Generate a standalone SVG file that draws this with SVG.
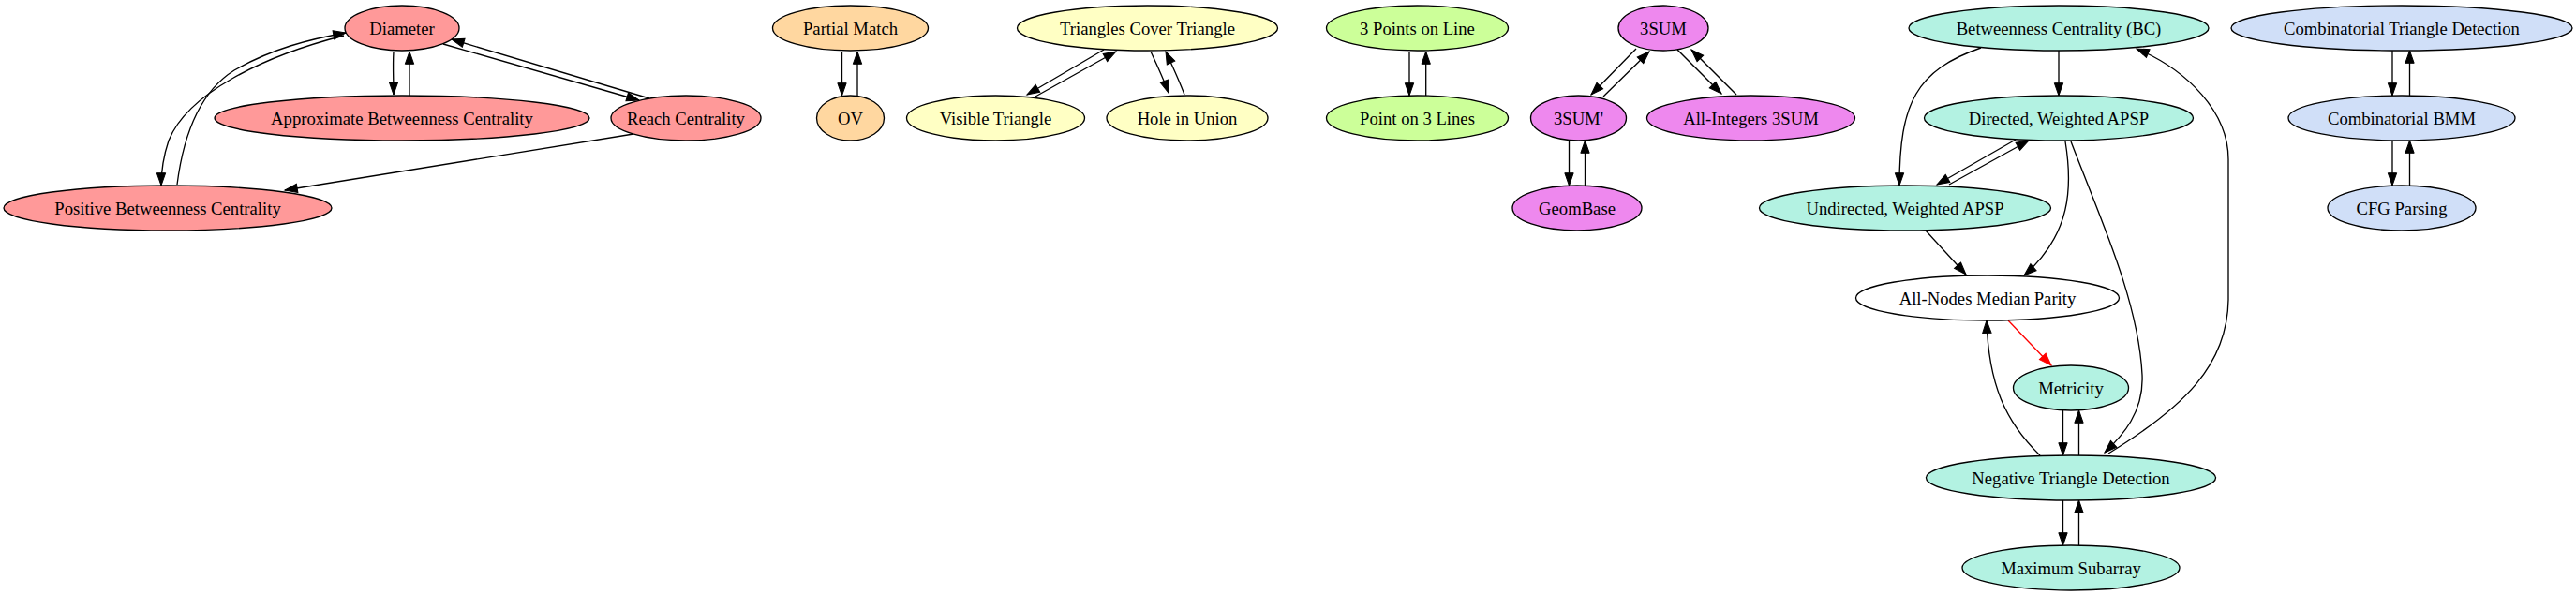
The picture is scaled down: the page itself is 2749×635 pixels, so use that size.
<svg xmlns="http://www.w3.org/2000/svg" width="2749" height="635" viewBox="0 0 2749 635">
<style>
.n ellipse{stroke:#000;stroke-width:1.33}
.n text{font-family:"Liberation Serif","Times New Roman",serif;font-size:18.67px;text-anchor:middle;fill:#000}
.e path{fill:none;stroke:#000;stroke-width:1.33}
.e path.red{stroke:#ff0000}
.g1{fill:#ff9999}.g2{fill:#ffd7a0}.g3{fill:#ffffc4}.g4{fill:#ccff99}.g5{fill:#ee88ee}.g6{fill:#b3f2e2}.g7{fill:#d0dff8}.g0{fill:#ffffff}
</style>
<defs>
<marker id="a" markerUnits="userSpaceOnUse" markerWidth="16" markerHeight="12" refX="13.3" refY="4.67" orient="auto" overflow="visible">
<path d="M0,0 L13.3,4.67 L0,9.33 z" fill="#000" stroke="#000" stroke-width="1"/>
</marker>
<marker id="ar" markerUnits="userSpaceOnUse" markerWidth="16" markerHeight="12" refX="13.3" refY="4.67" orient="auto" overflow="visible">
<path d="M0,0 L13.3,4.67 L0,9.33 z" fill="#ff0000" stroke="#ff0000" stroke-width="1"/>
</marker>
</defs>
<rect width="2749" height="635" fill="#fff"/>
<g id="edges" class="e" marker-end="url(#a)">
<path d="M420,55 C419,70 420,85 420,101" marker-end="url(#a)"/>
<path d="M437,102 C437,87 437,72 437,55" marker-end="url(#a)"/>
<path d="M473,47 L682,107" marker-end="url(#a)"/>
<path d="M693,105 L482,42" marker-end="url(#a)"/>
<path d="M367,38 C280,60 200,100 180,150 C174,168 172,183 172,198" marker-end="url(#a)"/>
<path d="M189,197 C195,150 210,100 250,75 C290,52 330,42 369,35" marker-end="url(#a)"/>
<path d="M676,143 L304,203" marker-end="url(#a)"/>
<path d="M898.5,55 L898.5,102" marker-end="url(#a)"/>
<path d="M915,102 L915,55" marker-end="url(#a)"/>
<path d="M1178,53 L1096,101" marker-end="url(#a)"/>
<path d="M1105,103 L1191,55" marker-end="url(#a)"/>
<path d="M1228,55 C1235,70 1242,85 1247,99" marker-end="url(#a)"/>
<path d="M1264,101 C1258,85 1250,68 1244,55" marker-end="url(#a)"/>
<path d="M1504,55 L1504,102" marker-end="url(#a)"/>
<path d="M1521.7,102 L1521.7,55" marker-end="url(#a)"/>
<path d="M1746,52 L1698,101" marker-end="url(#a)"/>
<path d="M1711,103 L1760,55" marker-end="url(#a)"/>
<path d="M1790,53 L1837,100" marker-end="url(#a)"/>
<path d="M1853,101 L1805,53" marker-end="url(#a)"/>
<path d="M1674.5,150 L1674.5,198" marker-end="url(#a)"/>
<path d="M1691.5,198 L1691.5,150" marker-end="url(#a)"/>
<path d="M2197,54 L2197,102" marker-end="url(#a)"/>
<path d="M2114,51 C2045,75 2027,110 2027,198" marker-end="url(#a)"/>
<path d="M2151,149 L2067,197" marker-end="url(#a)"/>
<path d="M2080,197 L2165,150" marker-end="url(#a)"/>
<path d="M2055,246 L2098,293" marker-end="url(#a)"/>
<path d="M2204,151 C2212,200 2210,250 2160,294" marker-end="url(#a)"/>
<path d="M2210,151 C2240,230 2282,320 2286,400 C2288,440 2265,465 2246,483" marker-end="url(#a)"/>
<path d="M2250,484 C2330,435 2377,390 2378,320 L2378,170 C2378,120 2335,75 2280,52" marker-end="url(#a)"/>
<path class="red" d="M2143,342 L2189,390" marker-end="url(#ar)"/>
<path d="M2177,486 C2140,450 2122,410 2120,342" marker-end="url(#a)"/>
<path d="M2201.5,438 L2201.5,486" marker-end="url(#a)"/>
<path d="M2218.5,486 L2218.5,438" marker-end="url(#a)"/>
<path d="M2201.5,534 L2201.5,582" marker-end="url(#a)"/>
<path d="M2218.5,582 L2218.5,534" marker-end="url(#a)"/>
<path d="M2553,54 L2553,102" marker-end="url(#a)"/>
<path d="M2571.5,102 L2571.5,54" marker-end="url(#a)"/>
<path d="M2553,150 L2553,198" marker-end="url(#a)"/>
<path d="M2571.5,198 L2571.5,150" marker-end="url(#a)"/>
</g>
<g id="diameter" class="n"><ellipse class="g1" cx="429" cy="30" rx="61" ry="24"/><text x="429" y="36.5">Diameter</text></g>
<g id="approx_bc" class="n"><ellipse class="g1" cx="429" cy="126" rx="200" ry="24"/><text x="429" y="132.5">Approximate Betweenness Centrality</text></g>
<g id="reach" class="n"><ellipse class="g1" cx="732" cy="126" rx="80" ry="24"/><text x="732" y="132.5">Reach Centrality</text></g>
<g id="positive_bc" class="n"><ellipse class="g1" cx="179" cy="222" rx="175" ry="24"/><text x="179" y="228.5">Positive Betweenness Centrality</text></g>
<g id="partial_match" class="n"><ellipse class="g2" cx="907.5" cy="30" rx="83" ry="24"/><text x="907.5" y="36.5">Partial Match</text></g>
<g id="ov" class="n"><ellipse class="g2" cx="907.5" cy="126" rx="36" ry="24"/><text x="907.5" y="132.5">OV</text></g>
<g id="tct" class="n"><ellipse class="g3" cx="1224.5" cy="30" rx="139" ry="24"/><text x="1224.5" y="36.5">Triangles Cover Triangle</text></g>
<g id="visible" class="n"><ellipse class="g3" cx="1062.5" cy="126" rx="95" ry="24"/><text x="1062.5" y="132.5">Visible Triangle</text></g>
<g id="hole" class="n"><ellipse class="g3" cx="1267" cy="126" rx="86" ry="24"/><text x="1267" y="132.5">Hole in Union</text></g>
<g id="points_line" class="n"><ellipse class="g4" cx="1512.5" cy="30" rx="97" ry="24"/><text x="1512.5" y="36.5">3 Points on Line</text></g>
<g id="point_lines" class="n"><ellipse class="g4" cx="1512.5" cy="126" rx="97" ry="24"/><text x="1512.5" y="132.5">Point on 3 Lines</text></g>
<g id="threesum" class="n"><ellipse class="g5" cx="1775" cy="30" rx="48" ry="24"/><text x="1775" y="36.5">3SUM</text></g>
<g id="threesum_p" class="n"><ellipse class="g5" cx="1684.5" cy="126" rx="51" ry="24"/><text x="1684.5" y="132.5">3SUM'</text></g>
<g id="allint" class="n"><ellipse class="g5" cx="1868.5" cy="126" rx="111" ry="24"/><text x="1868.5" y="132.5">All-Integers 3SUM</text></g>
<g id="geombase" class="n"><ellipse class="g5" cx="1683" cy="222" rx="69" ry="24"/><text x="1683" y="228.5">GeomBase</text></g>
<g id="bc" class="n"><ellipse class="g6" cx="2197" cy="30" rx="160" ry="24"/><text x="2197" y="36.5">Betweenness Centrality (BC)</text></g>
<g id="dapsp" class="n"><ellipse class="g6" cx="2197" cy="126" rx="143.5" ry="24"/><text x="2197" y="132.5">Directed, Weighted APSP</text></g>
<g id="uapsp" class="n"><ellipse class="g6" cx="2033" cy="222" rx="155.5" ry="24"/><text x="2033" y="228.5">Undirected, Weighted APSP</text></g>
<g id="anmp" class="n"><ellipse class="g0" cx="2121" cy="318" rx="140.5" ry="24"/><text x="2121" y="324.5">All-Nodes Median Parity</text></g>
<g id="metricity" class="n"><ellipse class="g6" cx="2210" cy="414" rx="61.5" ry="24"/><text x="2210" y="420.5">Metricity</text></g>
<g id="ntd" class="n"><ellipse class="g6" cx="2210" cy="510" rx="154.5" ry="24"/><text x="2210" y="516.5">Negative Triangle Detection</text></g>
<g id="maxsub" class="n"><ellipse class="g6" cx="2210" cy="606" rx="116" ry="24"/><text x="2210" y="612.5">Maximum Subarray</text></g>
<g id="ctd" class="n"><ellipse class="g7" cx="2563" cy="30" rx="182" ry="24"/><text x="2563" y="36.5">Combinatorial Triangle Detection</text></g>
<g id="cbmm" class="n"><ellipse class="g7" cx="2563" cy="126" rx="121" ry="24"/><text x="2563" y="132.5">Combinatorial BMM</text></g>
<g id="cfg" class="n"><ellipse class="g7" cx="2563" cy="222" rx="79" ry="24"/><text x="2563" y="228.5">CFG Parsing</text></g>
</svg>
